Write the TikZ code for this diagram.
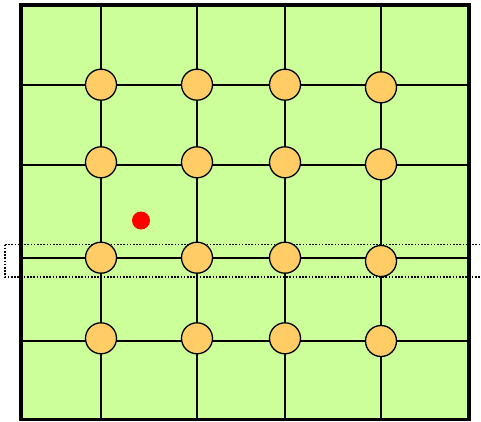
\documentclass[tikz,border=0pt]{standalone}
\begin{document}
\begin{tikzpicture}[x=1pt,y=-1pt,
  field/.style={fill=fieldgreen,draw=black,line width=3.2pt},
  gridline/.style={draw=black,line width=1.9pt},
  site/.style={circle,draw=black,fill=siteorange,line width=1.3pt,minimum size=31pt,inner sep=0pt},
  marker/.style={circle,fill=red,draw=none,minimum size=18pt,inner sep=0pt},
  strip/.style={draw=black,line width=1.2pt,dash pattern=on 1.6pt off 1.6pt}]
\definecolor{fieldgreen}{HTML}{CCFF99}
\definecolor{siteorange}{HTML}{FFCC66}
\useasboundingbox (0,0) rectangle (481,422);
% background field
\draw[field] (21,5) rectangle (469,419.5);
% vertical grid lines
\foreach \x [count=\i] in {101,197,285,381}{
  \coordinate (vt\i) at (\x,5);
  \coordinate (vb\i) at (\x,419.5);
  \draw[gridline] (vt\i) -- (vb\i);
}
% horizontal grid lines
\foreach \y [count=\j] in {85,165,258.3,341}{
  \coordinate (hl\j) at (21,\y);
  \coordinate (hr\j) at (469,\y);
  \draw[gridline] (hl\j) -- (hr\j);
}
% redraw the frame on top of the line ends
\draw[draw=black,line width=3.2pt] (21,5) rectangle (469,419.5);
% dotted selection strip
\clip (0,0) rectangle (481,422);
\draw[strip] (5,244.5) -- (490,244.5) (5,244.5) -- (5,277) -- (490,277);
% sites
\foreach \y/\yy [count=\j] in {84.7/87.3,162.3/164.3,257.7/261,338.3/341}{
  \node[site] (s\j-1) at (101,\y) {};
  \node[site] (s\j-2) at (197,\y) {};
  \node[site] (s\j-3) at (285,\y) {};
  \node[site] (s\j-4) at (381,\yy) {};
}
% marker point
\node[marker] (p) at (141,220.5) {};
\end{tikzpicture}
\end{document}
